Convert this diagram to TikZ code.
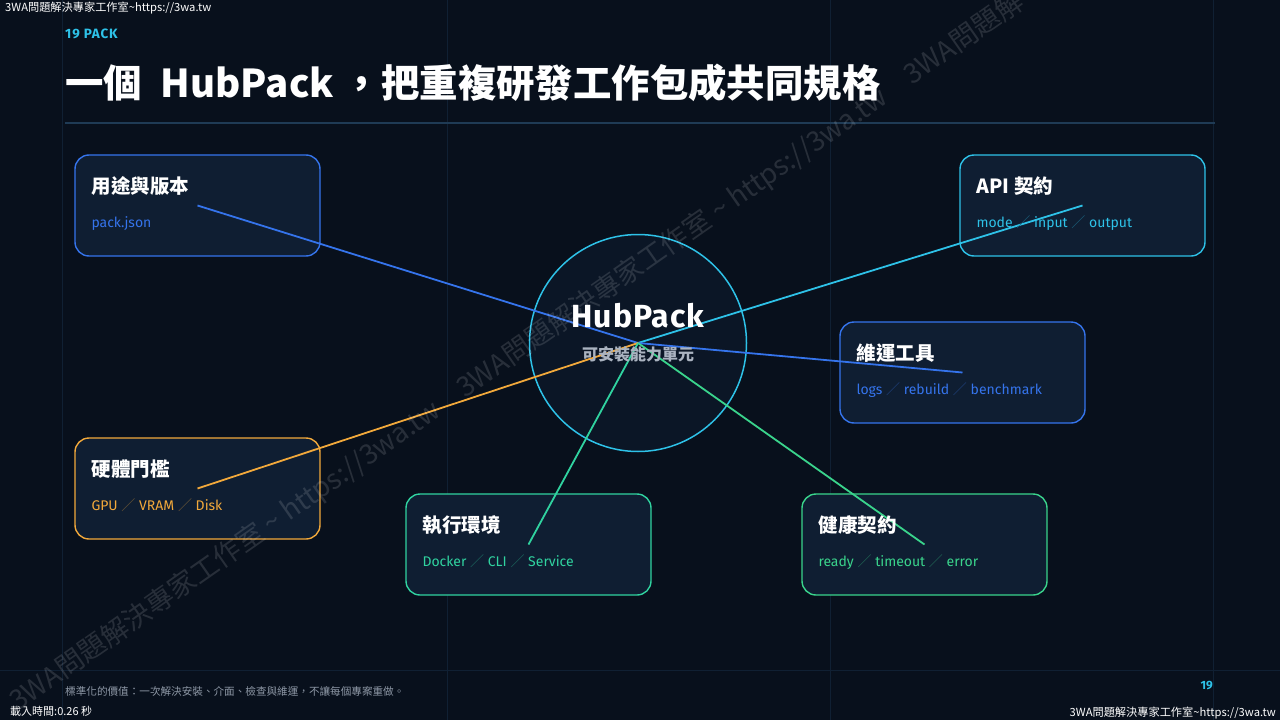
\documentclass[tikz,border=0pt]{standalone}
\usepackage{fontspec}
\setmainfont{Noto Sans CJK TC}
\newfontfamily\cjkfont{Noto Sans CJK TC}
\newfontfamily\techfont{Fira Sans}
\usetikzlibrary{positioning}

\definecolor{bgnavy}{HTML}{08101C}
\definecolor{boxbg}{HTML}{0F1E32}
\definecolor{hubbg}{HTML}{0B1626}
\definecolor{gridline}{HTML}{102033}
\definecolor{ruleline}{HTML}{1F3B55}
\definecolor{accblue}{HTML}{3574EC}
\definecolor{acccyan}{HTML}{2EC2E8}
\definecolor{accorange}{HTML}{F2A93B}
\definecolor{accteal}{HTML}{30D3A0}
\definecolor{accgreen}{HTML}{3AD48C}
\definecolor{subgrey}{HTML}{AAB3C0}
\definecolor{footgrey}{HTML}{8E98A6}

\newcommand\fsz[1]{\fontsize{#1}{#1}\selectfont}
\newcommand\sepmark[1]{\textcolor{#1!40!boxbg}{\cjkfont ／}}

\begin{document}
\begin{tikzpicture}[x=1pt,y=-1pt,
  capbox/.style={draw=#1,line width=1.4pt,fill=boxbg,rounded corners=14pt,minimum width=245pt,minimum height=101pt,inner sep=0pt},
  captitle/.style={anchor=base west,inner sep=0pt,text=white,font=\fsz{19.5}\bfseries},
  capitems/.style={anchor=base west,inner sep=0pt,text=#1,font=\techfont\fsz{14}},
  link/.style={draw=#1,line width=1.8pt},
  hubring/.style={circle,draw=acccyan,line width=1.5pt,fill=hubbg,minimum size=217pt,inner sep=0pt},
  cornertag/.style={inner sep=0pt,text=white,font=\fsz{11.2}},
  gridrule/.style={draw=gridline,line width=0.8pt}]
\useasboundingbox (0,0) rectangle (1280,720);
\fill[bgnavy] (0,0) rectangle (1280,720);

% faint frame grid
\foreach \gx in {62,447,830,1213}
  \draw[gridrule] (\gx,0) -- (\gx,720);
\draw[gridrule] (0,670) -- (1280,670);

% heading
\node[anchor=base west,inner sep=0pt,text=acccyan,font=\techfont\fsz{13.5}\bfseries\addfontfeature{LetterSpace=6}] (kicker) at (65,38) {19 PACK};
\node[anchor=base west,inner sep=0pt,text=white,font=\fsz{38.4}\bfseries] (headline) at (65,97) {一個\hspace{10pt} HubPack ，把重複研發工作包成共同規格};
\draw[ruleline,line width=1.2pt] (65,123) -- (1215,123);

% hub and capability boxes
\node[hubring] (hub) at (638,343) {};
\node[capbox=accblue] (usage) at (197.5,205.5) {};
\node[capbox=acccyan] (apicontract) at (1082.5,205.5) {};
\node[capbox=accblue] (opstools) at (962.5,372.5) {};
\node[capbox=accorange] (hardware) at (197.5,488.5) {};
\node[capbox=accteal] (runtime) at (528.5,544.5) {};
\node[capbox=accgreen] (health) at (924.5,544.5) {};

% spokes
\draw[link=accblue] (hub.center) -- (usage.center);
\draw[link=acccyan] (hub.center) -- (apicontract.center);
\draw[link=accblue] (hub.center) -- (opstools.center);
\draw[link=accorange] (hub.center) -- (hardware.center);
\draw[link=accteal] (hub.center) -- (runtime.center);
\draw[link=accgreen] (hub.center) -- (health.center);

\node[anchor=base,inner sep=0pt,text=white,font=\techfont\fsz{32}\bfseries\addfontfeature{LetterSpace=3}] (hubname) at (638,327) {HubPack};
\node[anchor=base,inner sep=0pt,text=subgrey,font=\fsz{16}\bfseries] (hubnote) at (638,360) {可安裝能力單元};

% box texts
\node[captitle] (usagettl) at ([shift={(17,39)}]usage.north west) {用途與版本};
\node[capitems=accblue] (usageitems) at ([shift={(17,73.5)}]usage.north west) {pack.json};
\node[captitle] (apittl) at ([shift={(17,39)}]apicontract.north west) {API 契約};
\node[capitems=acccyan] (apiitems) at ([shift={(17,73.5)}]apicontract.north west) {mode \sepmark{acccyan} input \sepmark{acccyan} output};
\node[captitle] (opsttl) at ([shift={(17,39)}]opstools.north west) {維運工具};
\node[capitems=accblue] (opsitems) at ([shift={(17,73.5)}]opstools.north west) {logs \sepmark{accblue} rebuild \sepmark{accblue} benchmark};
\node[captitle] (hwttl) at ([shift={(17,39)}]hardware.north west) {硬體門檻};
\node[capitems=accorange] (hwitems) at ([shift={(17,73.5)}]hardware.north west) {GPU \sepmark{accorange} VRAM \sepmark{accorange} Disk};
\node[captitle] (runttl) at ([shift={(17,39)}]runtime.north west) {執行環境};
\node[capitems=accteal] (runitems) at ([shift={(17,73.5)}]runtime.north west) {Docker \sepmark{accteal} CLI \sepmark{accteal} Service};
\node[captitle] (healthttl) at ([shift={(17,39)}]health.north west) {健康契約};
\node[capitems=accgreen] (healthitems) at ([shift={(17,73.5)}]health.north west) {ready \sepmark{accgreen} timeout \sepmark{accgreen} error};

% footer
\node[anchor=base west,inner sep=0pt,text=footgrey,font=\fsz{10.6}] (footnote) at (65,695) {標準化的價值：一次解決安裝、介面、檢查與維運，不讓每個專案重做。};
\node[anchor=base east,inner sep=0pt,text=acccyan,font=\techfont\fsz{12}\bfseries] (pageno) at (1213,689) {19};

% watermark
\node[anchor=base west,inner sep=0pt,rotate=35,text=white,opacity=0.13,font=\fsz{27.5}] (stamp) at (18,712)
  {3WA問題解決專家工作室 \textasciitilde{} https://3wa.tw\quad 3WA問題解決專家工作室 \textasciitilde{} https://3wa.tw\quad 3WA問題解};
\node[cornertag,anchor=west] (cornertl) at (5,8) {3WA問題解決專家工作室\textasciitilde https://3wa.tw};
\node[cornertag,anchor=east] (cornerbr) at (1276,713) {3WA問題解決專家工作室\textasciitilde https://3wa.tw};
\node[cornertag,anchor=west,font=\fsz{11}] (loadtime) at (10,711) {載入時間:0.26 秒};
\end{tikzpicture}
\end{document}
